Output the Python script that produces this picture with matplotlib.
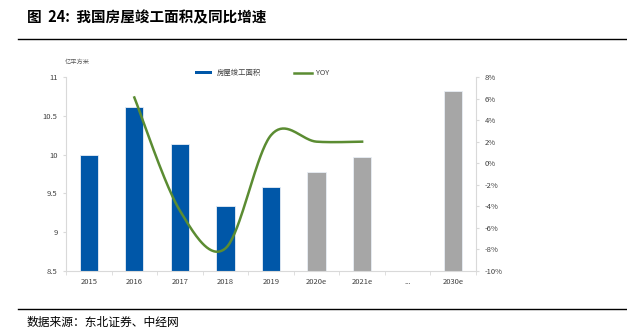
import numpy as np
import matplotlib.pyplot as plt
from matplotlib.patches import Patch
from matplotlib.lines import Line2D

plt.rcParams['font.family'] = ['Noto Sans CJK SC', 'DejaVu Sans']

years = ["2015", "2016", "2017", "2018", "2019", "2020e", "2021e", "...", "2030e"]
area = [10.0, 10.61, 10.14, 9.34, 9.58, 9.78, 9.97, np.nan, 10.82]   # 亿平方米
yoy_years = ["2016", "2017", "2018", "2019", "2020e", "2021e"]
yoy = [6.1, -4.4, -7.9, 2.6, 2.0, 2.0]                               # %

blue = "#0057A8"
grey_bar = "#A6A6A6"
green = "#5B8C32"
axis_grey = "#D9D9D9"
label_col = "#404040"


def smooth(xs, ys, n=40):
    # Catmull-Rom style smoothing, similar to a spreadsheet "smoothed line"
    p = np.column_stack([xs, ys]).astype(float)
    p = np.vstack([p[0], p, p[-1]])
    out = []
    for i in range(1, len(p) - 2):
        p0, p1, p2, p3 = p[i - 1], p[i], p[i + 1], p[i + 2]
        c1 = p1 + (p2 - p0) / 6
        c2 = p2 - (p3 - p1) / 6
        t = np.linspace(0, 1, n)[:, None]
        seg = ((1 - t) ** 3) * p1 + 3 * ((1 - t) ** 2) * t * c1 + 3 * (1 - t) * t ** 2 * c2 + t ** 3 * p2
        out.append(seg if i == 1 else seg[1:])
    out = np.vstack(out)
    return out[:, 0], out[:, 1]


fig = plt.figure(figsize=(6.27, 3.32), dpi=100)

# title and rules
fig.text(27 / 627, 1 - 17 / 332, "图  24:  我国房屋竣工面积及同比增速", fontsize=10.5,
         fontweight="bold", va="center", ha="left", color="black")
fig.add_artist(Line2D([18 / 627, 1], [1 - 38.5 / 332] * 2, color="black", lw=1.0))
fig.add_artist(Line2D([18 / 627, 1], [1 - 308.5 / 332] * 2, color="black", lw=1.0))
fig.text(27 / 627, 1 - 322 / 332, "数据来源：东北证券、中经网", fontsize=8.5,
         va="center", ha="left", color="black")

ax = fig.add_axes([66 / 627, 61 / 332, 410 / 627, 194 / 332])
x = np.arange(len(years))
colors = [blue] * 5 + [grey_bar] * 4
ax.bar(x, area, width=0.4, color=colors, edgecolor="#E8EEF5", linewidth=0.6, zorder=2)
ax.set_xlim(-0.5, len(years) - 0.5)
ax.set_ylim(8.5, 11)
ax.set_yticks([8.5, 9, 9.5, 10, 10.5, 11])
ax.set_yticklabels(["8.5", "9", "9.5", "10", "10.5", "11"])
ax.set_xticks(x)
ax.set_xticklabels(years)
ax.set_xticks(np.arange(-0.5, len(years)), minor=True)
ax.tick_params(axis="x", which="major", length=0, labelsize=5.5, colors=label_col, pad=5)
ax.tick_params(axis="x", which="minor", length=3, color=axis_grey, direction="out")
ax.tick_params(axis="y", length=2, color=axis_grey, labelsize=5.5, labelcolor=label_col, pad=4)
for s in ["top", "right"]:
    ax.spines[s].set_visible(False)
for s in ["left", "bottom"]:
    ax.spines[s].set_color(axis_grey)
    ax.spines[s].set_linewidth(0.8)

ax2 = ax.twinx()
yx = [years.index(y) for y in yoy_years]
sx, sy = smooth(yx, yoy)
ax2.plot(sx, sy, color=green, lw=1.8, zorder=3)
ax2.set_ylim(-10, 8)
ax2.set_yticks(range(-10, 9, 2))
ax2.set_yticklabels([f"{v}%" for v in range(-10, 9, 2)])
ax2.tick_params(axis="y", length=2, color=axis_grey, labelsize=5.5, labelcolor=label_col, pad=4)
for s in ["top", "left", "bottom"]:
    ax2.spines[s].set_visible(False)
ax2.spines["right"].set_color(axis_grey)
ax2.spines["right"].set_linewidth(0.8)

fig.text(65 / 627, 1 - 62 / 332, "亿平方米", fontsize=4.5, color="#595959", va="center", ha="left")

handles = [Patch(facecolor=blue, edgecolor="none"), Line2D([], [], color=green, lw=1.8)]
fig.legend(handles, ["房屋竣工面积", "YOY"], loc="center", bbox_to_anchor=(262 / 627, 1 - 73 / 332),
           ncol=2, frameon=False, fontsize=5.3, handlelength=2.4, handleheight=0.35,
           columnspacing=4.5, handletextpad=0.6, labelcolor=label_col)

fig.savefig("out.png", dpi=100)
